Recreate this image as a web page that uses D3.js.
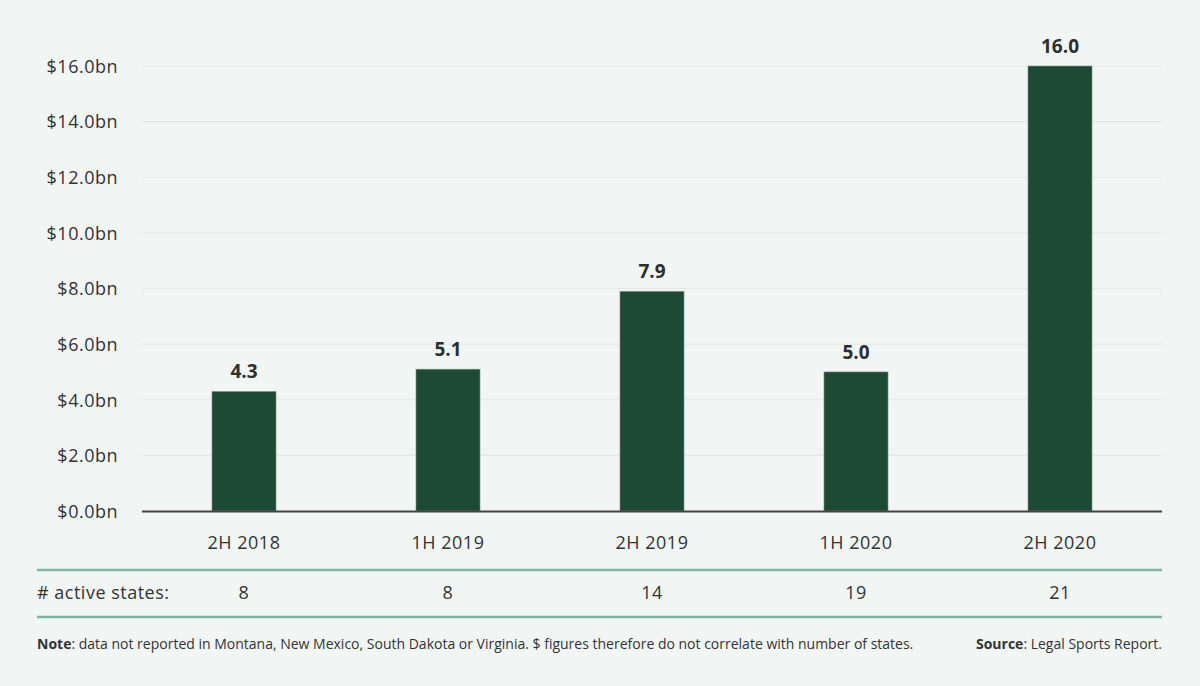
<!DOCTYPE html>
<html><head><meta charset="utf-8">
<script src="https://cdn.jsdelivr.net/npm/d3@7"></script>
<style>
html,body{margin:0;padding:0;background:#f1f6f5;}
svg{display:block;font-family:"Open Sans",Lato,sans-serif;}
</style></head>
<body><svg id="c" width="1200" height="686"></svg>
<script>
const categories = ["2H 2018","1H 2019","2H 2019","1H 2020","2H 2020"];
const values = [4.3, 5.1, 7.9, 5.0, 16.0];
const activeStates = [8, 8, 14, 19, 21];
const yTicks = [0,2,4,6,8,10,12,14,16];

const FONT = "'Open Sans',Lato,sans-serif";
const FS = 18, LS = "0.5px";
const svg = d3.select("#c");
const W = 1200, H = 686;
svg.append("rect").attr("width",W).attr("height",H).attr("fill","#f1f6f5");

const x = d3.scaleBand().domain(categories).range([142,1162]).paddingInner(0.686).paddingOuter(0.343);
const y = d3.scaleLinear().domain([0,16]).range([511,66]);

// gridlines
svg.append("g").selectAll("line").data(yTicks.filter(d=>d>0)).join("line")
  .attr("x1",142).attr("x2",1162).attr("y1",d=>y(d)).attr("y2",d=>y(d))
  .attr("stroke","#e3e9e7").attr("stroke-width",1.2);

// y axis labels
const yAxis = d3.axisLeft(y).tickValues(yTicks).tickSize(0).tickPadding(0)
  .tickFormat(d=>"$"+d3.format(".1f")(d)+"bn");
const ya = svg.append("g").attr("transform","translate(118,0)").call(yAxis);
ya.select(".domain").remove();
ya.selectAll("text").attr("font-size",FS).attr("letter-spacing",LS).attr("fill","#333").attr("font-family",FONT).attr("dy","0.35em");

// bars
svg.append("g").selectAll("rect").data(values).join("rect")
  .attr("x",(d,i)=>x(categories[i])).attr("width",x.bandwidth())
  .attr("y",d=>y(d)).attr("height",d=>y(0)-y(d))
  .attr("fill","#1d4a34").attr("stroke","#8a9a92").attr("stroke-width",0.6);

// value labels
svg.append("g").selectAll("text").data(values).join("text")
  .attr("x",(d,i)=>x(categories[i])+x.bandwidth()/2).attr("y",d=>y(d)-13)
  .attr("text-anchor","middle").attr("font-size",19).attr("font-weight",700)
  .attr("fill","#2b2f2e").text(d=>d3.format(".1f")(d));

// x axis line
svg.append("line").attr("x1",142).attr("x2",1162).attr("y1",y(0)+0.5).attr("y2",y(0)+0.5)
  .attr("stroke","#444").attr("stroke-width",2);

// x labels
const xAxis = d3.axisBottom(x).tickSize(0).tickPadding(0);
const xa = svg.append("g").attr("transform","translate(0,543)").call(xAxis);
xa.select(".domain").remove();
xa.selectAll("text").attr("font-size",FS).attr("letter-spacing",LS).attr("fill","#333").attr("font-family",FONT).attr("dy","0.35em");

// green rules
[570,617].forEach(yy=>svg.append("line").attr("x1",37).attr("x2",1162).attr("y1",yy).attr("y2",yy)
  .attr("stroke","#7cb89e").attr("stroke-width",2.5));

svg.append("text").attr("x",37).attr("y",593).attr("dy","0.35em").attr("font-size",FS).attr("letter-spacing",LS)
  .attr("fill","#333").text("# active states:");
svg.append("g").selectAll("text").data(activeStates).join("text")
  .attr("x",(d,i)=>x(categories[i])+x.bandwidth()/2).attr("y",593).attr("dy","0.35em")
  .attr("text-anchor","middle").attr("font-size",FS).attr("letter-spacing",LS).attr("fill","#333").text(d=>d);

// notes
const note = svg.append("text").attr("x",37).attr("y",649).attr("font-size",14).attr("fill","#333");
note.append("tspan").attr("font-weight",700).text("Note");
note.append("tspan").text(": data not reported in Montana, New Mexico, South Dakota or Virginia. $ figures therefore do not correlate with number of states.");
const src = svg.append("text").attr("x",1162).attr("y",649).attr("text-anchor","end").attr("font-size",14).attr("fill","#333");
src.append("tspan").attr("font-weight",700).text("Source");
src.append("tspan").text(": Legal Sports Report.");
</script></body></html>
